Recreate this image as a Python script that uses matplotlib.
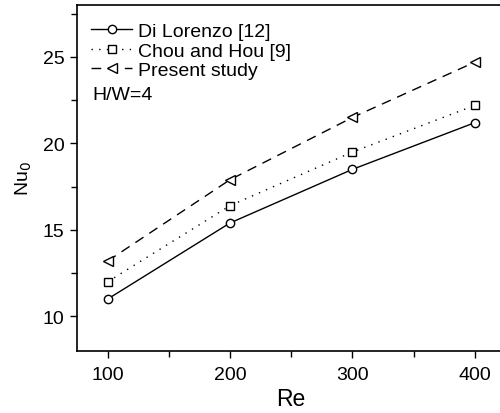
import matplotlib
matplotlib.use("Agg")
import matplotlib.pyplot as plt
from matplotlib.ticker import MultipleLocator

plt.rcParams['font.family'] = ['Liberation Sans', 'DejaVu Sans']

re_vals = [100, 200, 300, 400]
nu_lorenzo = [11.0, 15.4, 18.5, 21.2]
nu_chou = [12.0, 16.4, 19.5, 22.2]
nu_present = [13.2, 17.9, 21.5, 24.7]

fig = plt.figure(figsize=(5.0, 4.14), dpi=100)
ax = fig.add_axes([0.154, 0.1498, 0.857, 0.8357])

mk = dict(color='black', markerfacecolor='white', markeredgecolor='black',
          markeredgewidth=1.0, linewidth=1.0)
ax.plot(re_vals, nu_lorenzo, '-', marker='o', markersize=6, label='Di Lorenzo [12]', **mk)
ax.plot(re_vals, nu_chou, linestyle=(0, (1, 4.5)), marker='s', markersize=6,
        label='Chou and Hou [9]', **mk)
ax.plot(re_vals, nu_present, linestyle=(0, (7, 5)), marker='<', markersize=7.5,
        label='Present study', **mk)

ax.set_xlim(75, 425)
ax.set_ylim(8, 28)
ax.xaxis.set_major_locator(MultipleLocator(100))
ax.xaxis.set_minor_locator(MultipleLocator(50))
ax.yaxis.set_major_locator(MultipleLocator(5))
ax.yaxis.set_minor_locator(MultipleLocator(2.5))
ax.tick_params(which='both', direction='out', width=1.0, labelsize=14)
ax.tick_params(which='major', length=5)
ax.tick_params(which='minor', length=4)
ax.tick_params(axis='x', pad=6)
ax.tick_params(axis='y', pad=4)
for s in ax.spines.values():
    s.set_linewidth(1.2)

ax.set_xlabel('Re', fontsize=16.5, labelpad=3)
ax.set_ylabel('Nu$_0$', fontsize=14, labelpad=6)

leg = ax.legend(loc='upper left', frameon=False, fontsize=14, handlelength=2.1,
                handletextpad=0.3, labelspacing=0.1, borderaxespad=0.0,
                bbox_to_anchor=(0.015, 0.972))
ax.text(0.035, 0.74, 'H/W=4', transform=ax.transAxes, fontsize=14,
        va='center', ha='left')

fig.savefig('out.png', dpi=100)
